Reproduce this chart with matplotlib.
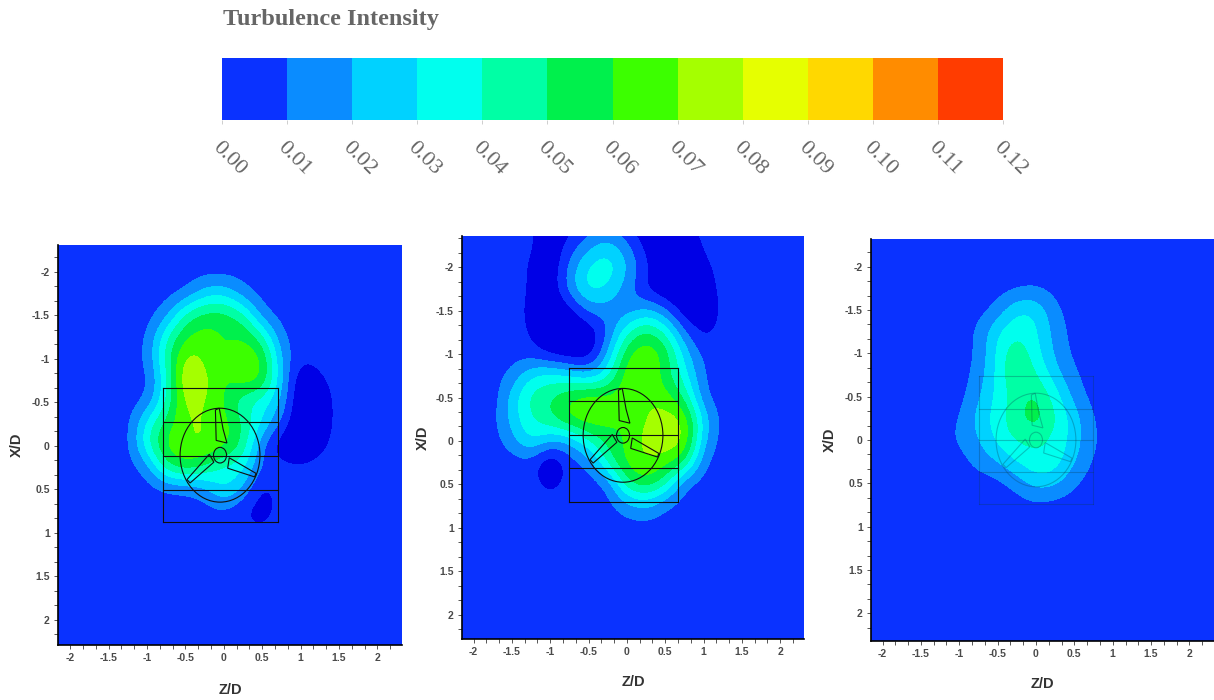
import numpy as np
import matplotlib
matplotlib.use('Agg')
import matplotlib.pyplot as plt
from matplotlib.colors import ListedColormap, BoundaryNorm
from matplotlib.patches import Ellipse, Polygon
from matplotlib.ticker import MultipleLocator, AutoMinorLocator, FuncFormatter

# contour levels and colours of the legend bar
levels = [0.00, 0.01, 0.02, 0.03, 0.04, 0.05, 0.06, 0.07, 0.08, 0.09, 0.10, 0.11, 0.12]
level_labels = ['0.00', '0.01', '0.02', '0.03', '0.04', '0.05', '0.06', '0.07', '0.08', '0.09', '0.10', '0.11', '0.12']
level_colors = ['#0a32ff', '#0a8cff', '#00d2ff', '#00ffee', '#00ffa5', '#00f04c', '#3cff00',
                '#a5ff00', '#e6ff00', '#ffd800', '#ff8c00', '#ff3c00']
below_color = '#0000e6'

# turbulence intensity in percent, rows go with X/D, columns with Z/D
z_a = [-1.5, -1.25, -1, -.75, -.5, -.25, 0, .25, .5, .75, 1, 1.25, 1.5]
x_a = [-2.25, -2, -1.75, -1.5, -1.25, -1, -.75, -.5, -.25, 0, .25, .5, .75, 1, 1.25]
ti_a = [
    [.5, .5, .5, .5, .5, .5, .5, .5, .5, .5, .5, .5, .5],
    [.5, .5, .5, .5, .5, .5, .5, .5, .5, .5, .5, .5, .5],
    [.5, .5, .5, .5, .9, 2.5, 2.8, 1.3, .5, .5, .5, .5, .5],
    [.5, .5, .5, 1.5, 4.5, 5.5, 5.5, 4.5, 1.2, .5, .5, .5, .5],
    [.5, .5, .8, 4, 6, 6.6, 6, 6.2, 4.5, 1, .5, .5, .5],
    [.5, .5, 1, 4.5, 7.6, 6.8, 5.5, 6.9, 6.5, 1.8, .1, .5, .5],
    [.5, .5, .5, 3.5, 8.6, 7.5, 5.8, 6.8, 6.3, 2.2, -1.2, -.2, .5],
    [.5, .5, 1, 4, 7.6, 7, 6, 4, 3.5, 2, -1.5, -.8, .5],
    [.5, .5, 3.5, 5.5, 7, 7, 6.5, 5, 3, .9, -1.5, -.8, .5],
    [.5, .5, 4, 6.5, 7, 7.2, 6.5, 5, .9, -1, -1.5, -.3, .5],
    [.5, .5, 1.3, 5, 6, 5, 3.6, 3.5, .7, .5, .3, .5, .5],
    [.5, .5, .5, .8, .9, 1.5, 3.5, 2, -.5, .5, .5, .5, .5],
    [.5, .5, .5, .5, .5, .5, .8, 0, -.7, .5, .5, .5, .5],
    [.5, .5, .5, .5, .5, .5, .5, .3, .3, .5, .5, .5, .5],
    [.5, .5, .5, .5, .5, .5, .5, .5, .5, .5, .5, .5, .5],
]

z_b = [-1.75, -1.5, -1.25, -1, -.75, -.5, -.25, 0, .25, .5, .75, 1, 1.25, 1.5]
x_b = [-2.75, -2.5, -2.25, -2, -1.75, -1.5, -1.25, -1, -.75, -.5, -.25, 0, .25, .5, .75, 1, 1.25]
ti_b = [
    [.5, .5, .5, -.6, -.6, -.2, .2, -.2, -.8, -.8, .2, .5, .5, .5],
    [.5, .5, .2, -.8, -.5, .3, .5, -.2, -1, -1, -.3, .4, .5, .5],
    [.5, .5, .3, -1, .3, 1.6, 2.6, 1.3, -.5, -1.2, -1, .3, .5, .5],
    [.5, .5, -.1, -1.2, 1.4, 3.3, 3.9, 2.2, .2, -1.2, -1.2, -.3, .5, .5],
    [.5, .5, -.1, -1, 1.6, 3.7, 3, 1.5, -.3, -1.2, -1.2, -.8, .5, .5],
    [.5, .5, -.3, -1.2, -.6, 1.4, 1.5, 1.1, 2.2, 1.2, -1, -.9, .3, .5],
    [.5, .5, -.1, -1.2, -1.2, -1, .8, 4, 5.5, 4, 1, -.5, .5, .5],
    [.5, .5, .4, -.5, -1, -1, 2, 6, 7, 6, 2.5, .6, .5, .5],
    [.5, 1.2, 3, 3.5, 3, 2, 3.5, 7, 7, 5.5, 3.5, .8, .5, .5],
    [.3, 2.5, 4.5, 5, 6, 6.8, 6.5, 6.5, 7, 6.5, 5, .9, .5, .5],
    [.5, 2.5, 4, 5, 6.5, 7, 6.5, 6, 7, 7.6, 7.2, 2.5, .5, .5],
    [.5, 1.6, 3.5, 2, 2, 4, 5.5, 6, 7.6, 7.8, 7.6, 2, .5, .5],
    [.5, .4, .6, -1.5, .5, 1.2, 4.5, 6.5, 7, 6.5, 5.5, .9, .5, .5],
    [.5, .5, .5, -.5, .5, .3, .9, 5, 6, 4.5, .8, .5, .5, .5],
    [.5, .5, .5, .5, .5, .5, .5, 1.6, 2.2, .9, .5, .5, .5, .5],
    [.5, .5, .5, .5, .5, .5, .5, .5, .5, .5, .5, .5, .5, .5],
    [.5, .5, .5, .5, .5, .5, .5, .5, .5, .5, .5, .5, .5, .5],
]

z_c = [-1.25, -1, -.75, -.5, -.25, 0, .25, .5, .75, 1]
x_c = [-2, -1.75, -1.5, -1.25, -1, -.75, -.5, -.25, 0, .25, .5, .75, 1]
ti_c = [
    [.5, .5, .5, .5, .5, .5, .5, .5, .5, .5],
    [.5, .5, .5, .5, .7, .9, .6, .5, .5, .5],
    [.5, .5, .5, 1.2, 3, 3, 1.2, .5, .5, .5],
    [.5, .5, 1.1, 3, 3.8, 3.3, 1.6, .6, .5, .5],
    [.5, .5, 1, 3.3, 5, 3.4, 1.8, .7, .5, .5],
    [.5, .5, 1.3, 3.3, 5.2, 4.2, 2.4, 1.1, .5, .5],
    [.5, .5, 1.8, 3.3, 4.5, 5.3, 3.6, 1.6, .6, .5],
    [.5, .9, 2.4, 3.5, 4.8, 5.8, 4.2, 2.6, .9, .5],
    [.5, 1.2, 1.9, 3.4, 4.2, 4.2, 3.8, 2.6, 1.1, .5],
    [.5, .5, 1.4, 2, 3.2, 3.9, 3.7, 2.2, .8, .5],
    [.5, .5, .5, .6, 1.3, 2.6, 2.4, 1.1, .5, .5],
    [.5, .5, .5, .5, .5, .7, .5, .5, .5, .5],
    [.5, .5, .5, .5, .5, .5, .5, .5, .5, .5],
]

# turbine outline in D
box_z_a = [-.79, .70]
box_x_a = [-.67, -.28, .115, .51, .88]
hub_a = (-.05, .107)
box_z_b = [-.75, .67]
box_x_b = [-.84, -.46, -.065, .31, .70]
hub_b = (-.05, -.065)
box_z_c = [-.74, .74]
box_x_c = [-.74, -.36, 0, .37, .74]
hub_c = (0, 0)
blade_up = [(-.06, -.52), (-.01, -.54), (.04, -.3), (.09, -.14), (-.05, -.17)]
blade_left = [(-.14, -.01), (-.08, .08), (-.39, .32), (-.43, .28)]
blade_right = [(.12, .03), (.47, .21), (.45, .25), (.1, .15)]

W, H = 1214, 700
gray = '#4a4a4a'
fig = plt.figure(figsize=(W / 100, H / 100), dpi=100)

cmap = ListedColormap(level_colors)
cmap.set_under(below_color)
norm = BoundaryNorm(levels, cmap.N, extend='neither', clip=False)


def px_axes(left, top, right, bottom):
    return fig.add_axes([left / W, 1 - bottom / H, (right - left) / W, (bottom - top) / H])


def fmt(v, pos):
    return '0' if abs(v) < 1e-9 else '%g' % v


def panel(rect, zs, xs, ti, xlim, ylim, box_z, box_x, hub, line_kw, ylabel_x, labelpad):
    ax = px_axes(*rect)
    ax.set_facecolor(level_colors[0])
    grid = np.array(ti) / 100
    dz = (zs[1] - zs[0]) / 2
    dx = (xs[1] - xs[0]) / 2
    ax.imshow(grid, cmap=cmap, norm=norm, aspect='auto', interpolation='bicubic',
              interpolation_stage='data',
              extent=[zs[0] - dz, zs[-1] + dz, xs[-1] + dx, xs[0] - dx])
    ax.set_xlim(xlim)
    ax.set_ylim(ylim)

    # turbine box, disc and blades
    for x in box_x:
        ax.plot(box_z, [x, x], **line_kw)
    for z in box_z:
        ax.plot([z, z], [box_x[0], box_x[-1]], **line_kw)
    ax.add_patch(Ellipse(hub, 1.04, 1.08, fill=False, **line_kw))
    ax.add_patch(Ellipse(hub, .17, .18, fill=False, **line_kw))
    for blade in (blade_up, blade_left, blade_right):
        pts = [(hub[0] + p[0], hub[1] + p[1]) for p in blade]
        ax.add_patch(Polygon(pts, closed=True, fill=False, **line_kw))

    for s in ('top', 'right'):
        ax.spines[s].set_visible(False)
    ax.spines['left'].set_linewidth(1.2)
    ax.spines['bottom'].set_linewidth(1.2)
    ax.xaxis.set_major_locator(MultipleLocator(.5))
    ax.yaxis.set_major_locator(MultipleLocator(.5))
    ax.xaxis.set_minor_locator(AutoMinorLocator(3))
    ax.yaxis.set_minor_locator(AutoMinorLocator(3))
    ax.xaxis.set_major_formatter(FuncFormatter(fmt))
    ax.yaxis.set_major_formatter(FuncFormatter(fmt))
    ax.tick_params(which='both', length=3, width=.7, color='#555555')
    ax.tick_params(axis='both', labelsize=7.5, labelcolor=gray, pad=3)
    for t in ax.get_xticklabels() + ax.get_yticklabels():
        t.set_family('Liberation Sans')
        t.set_fontweight('bold')
    ax.set_xlabel('Z/D', fontsize=10.5, fontweight='bold', family='Liberation Sans', color='#333333', labelpad=labelpad)
    ax.set_ylabel('X/D', fontsize=10.5, fontweight='bold', family='Liberation Sans', color='#333333')
    ax.yaxis.set_label_coords(ylabel_x, .5)
    return ax


dark = dict(color='#101010', lw=.8)
faint = dict(color='#0a3c50', lw=.8, alpha=.3)
panel((58, 245, 402, 645), z_a, x_a, ti_a, (-2.16, 2.32), (2.29, -2.31),
      box_z_a, box_x_a, hub_a, dark, -.10, 14)
panel((462, 236, 804, 639), z_b, x_b, ti_b, (-2.15, 2.31), (2.28, -2.36),
      box_z_b, box_x_b, hub_b, dark, -.095, 13)
panel((871, 239, 1214, 641), z_c, x_c, ti_c, (-2.15, 2.32), (2.32, -2.32),
      box_z_c, box_x_c, hub_c, faint, -.10, 13)

# legend bar
cax = px_axes(222, 58, 1003, 120)
cax.pcolormesh(levels, [0, 1], np.array([[(a + b) / 2 for a, b in zip(levels[:-1], levels[1:])]]),
               cmap=cmap, norm=norm)
cax.set_xlim(levels[0], levels[-1])
cax.set_yticks([])
cax.set_xticks(levels)
cax.set_xticklabels(level_labels, rotation=-45, ha='left', va='top', rotation_mode='anchor',
                    family='Liberation Serif', fontsize=16, color='#666666')
cax.tick_params(axis='x', length=3, width=.5, color='#bbbbbb', pad=10)
for t in cax.get_xticklabels():
    t.set_x(t.get_position()[0])
for s in cax.spines.values():
    s.set_visible(False)

fig.text(223 / W, 1 - 20 / H, 'Turbulence Intensity', family='Liberation Serif', fontsize=17.5,
         fontweight='bold', color='#666666', va='center')

fig.savefig('out.png', dpi=100)
